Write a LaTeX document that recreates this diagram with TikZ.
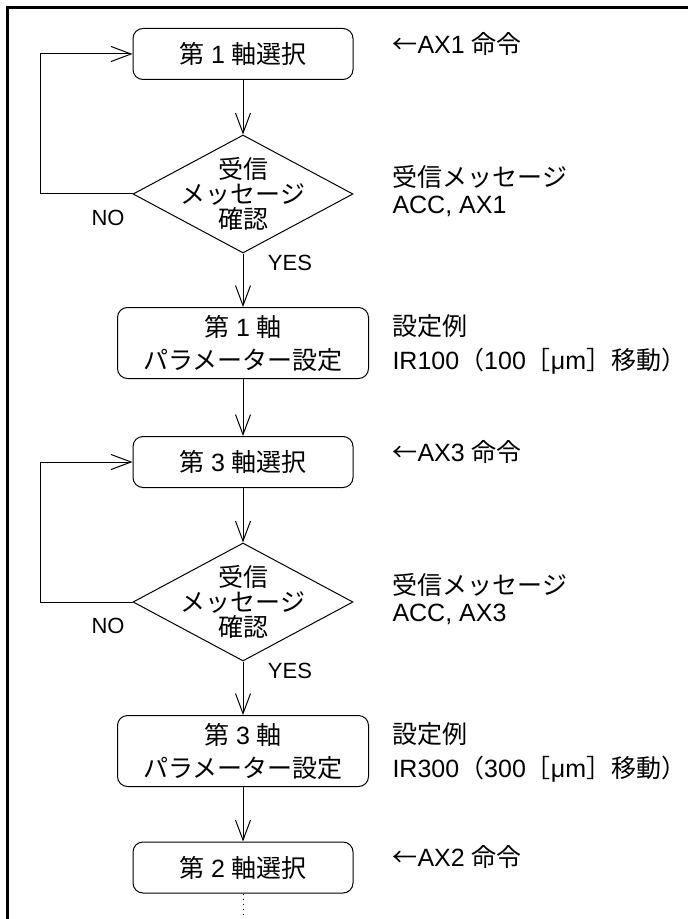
\documentclass[tikz,border=0pt]{standalone}
\usepackage{fontspec}
\setmainfont{Liberation Sans}
\newfontfamily\jp{Noto Sans CJK JP}
\usetikzlibrary{arrows.meta,shapes.geometric}

\begin{document}
\begin{tikzpicture}[x=0.5pt, y=-0.5pt, line width=0.5pt, font=\fontsize{12.5}{15}\selectfont,
    box/.style={draw, rounded corners=5pt, minimum width=110pt, minimum height=25.5pt, inner sep=0pt, align=center},
    parbox/.style={box, minimum width=125.5pt, minimum height=35.5pt, font=\fontsize{12.5}{16.5}\selectfont},
    decision/.style={draw, diamond, minimum width=110pt, minimum height=59pt, inner sep=0pt},
    dtext/.style={align=center, inner sep=0pt, font=\jp\fontsize{12.5}{12.5}\selectfont},
    note/.style={anchor=west, inner sep=0pt},
    yn/.style={inner sep=0pt, font=\fontsize{11}{13}\selectfont},
    flow/.style={-{Straight Barb[length=10pt,width=7.5pt]}}]
    \useasboundingbox (0,0) rectangle (688,919);
    \draw[line width=1.5pt] (688,7.5) -- (7.5,7.5) -- (7.5,919);
    \foreach \n/\dy in {1/0, 3/408} {
        \node[box] (sel\n) at (243,54+\dy) {{\jp 第} \n\ {\jp 軸選択}};
        \node[decision] (chk\n) at (243,194+\dy) {};
        \node[dtext] (chkt\n) at (chk\n) {受信\\メッセージ\\確認};
        \node[parbox] (par\n) at (243,343+\dy) {{\jp 第} \n\ {\jp 軸}\\{\jp パラメーター設定}};
        \coordinate (lp\n) at (40,194+\dy);
        \draw[flow] (sel\n) -- (chk\n);
        \draw[flow] (chk\n) -- (par\n);
        \draw[flow] (chk\n.west) -- (lp\n) |- (sel\n.west);
        \node[yn] (no\n) at (108,218+\dy) {NO};
        \node[yn] (yes\n) at (290,263+\dy) {YES};
        \node[note] (cmd\n) at (392,44+\dy) {{\jp ←}AX\n\ {\jp 命令}};
        \node[note] (msg\n) at (392,177+\dy) {\jp 受信メッセージ};
        \node[note] (ack\n) at (392,206+\dy) {ACC, AX\n};
        \node[note] (ex\n) at (392,326+\dy) {\jp 設定例};
        \node[note] (ir\n) at (392,361+\dy) {IR\n00{\jp （}\n00{\jp ［}μm{\jp ］移動）}};
    }
    \node[box] (sel2) at (243,867.5) {{\jp 第} 2 {\jp 軸選択}};
    \node[note] (cmd2) at (392,857) {{\jp ←}AX2 {\jp 命令}};
    \coordinate (cont) at (243,919);
    \draw[flow] (par1) -- (sel3);
    \draw[flow] (par3) -- (sel2);
    \draw[dotted] (sel2) -- (cont);
\end{tikzpicture}
\end{document}
